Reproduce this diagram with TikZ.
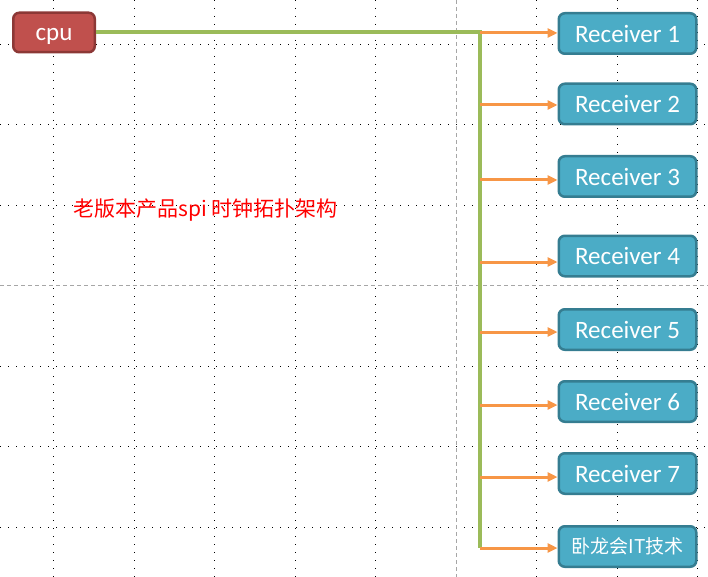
\documentclass[tikz,border=0pt]{standalone}
\usepackage{fontspec}
\setmainfont{Carlito}
\newfontfamily\cjk{Noto Sans CJK SC}
\usetikzlibrary{arrows.meta}
\definecolor{cpured}{HTML}{C0504D}
\definecolor{cpuedge}{HTML}{8C3836}
\definecolor{rxblue}{HTML}{4BACC6}
\definecolor{rxedge}{HTML}{357D91}
\definecolor{busgreen}{HTML}{9BBB59}
\definecolor{linkorange}{HTML}{F79646}

\begin{document}
\begin{tikzpicture}[x=1pt,y=-1pt,
	gridline/.style={line width=0.9pt, dash pattern=on 0.9pt off 7.1pt},
	gridmid/.style={gray!70, line width=0.8pt, dash pattern=on 4pt off 3pt},
	cpubox/.style={draw=cpuedge, fill=cpured, line width=2.5pt, rounded corners=6pt, minimum width=81.5pt, minimum height=39.5pt, text=white, text height=16pt, text depth=0pt, font=\fontsize{25}{25}\selectfont},
	rxbox/.style={draw=rxedge, fill=rxblue, line width=2.5pt, rounded corners=6pt, minimum width=137.5pt, minimum height=40.5pt, text=white, font=\fontsize{25}{25}\selectfont},
	bus/.style={busgreen, line width=4pt},
	link/.style={linkorange, line width=3pt, -{Triangle[length=10pt,width=9pt]}}]
	
	\useasboundingbox (0,0) rectangle (708,577);
	
	\foreach \i in {0,1,2,3,4,6,7,8}
		\draw[gridline] (53.5+80.5*\i,0) -- (53.5+80.5*\i,577);
	\foreach \j in {0,1,2,4,5,6}
		\draw[gridline] (0,44+80.5*\j) -- (708,44+80.5*\j);
	\draw[gridmid] (456,0) -- (456,577);
	\draw[gridmid] (0,285.5) -- (708,285.5);
	
	\node[cpubox] (cpu) at (54,32.5) {cpu};
	
	\node[anchor=west, text=red, font=\cjk\fontsize{21}{21}\selectfont] (title) at (70,210) {老版本产品spi 时钟拓扑架构};
	
	\node[rxbox] (r1) at (627.5,33.5) {Receiver 1};
	\node[rxbox] (r2) at (627.5,104) {Receiver 2};
	\node[rxbox] (r3) at (627.5,176.5) {Receiver 3};
	\node[rxbox] (r4) at (627.5,256) {Receiver 4};
	\node[rxbox] (r5) at (627.5,329.5) {Receiver 5};
	\node[rxbox] (r6) at (627.5,401.5) {Receiver 6};
	\node[rxbox] (r7) at (627.5,473.5) {Receiver 7};
	\node[rxbox, font=\cjk\fontsize{19}{19}\selectfont] (r8) at (627.5,546.5) {卧龙会IT技术};
	
	\coordinate (t1) at (480,33);
	\coordinate (t2) at (480,105);
	\coordinate (t3) at (480,180);
	\coordinate (t4) at (480,262);
	\coordinate (t5) at (480,332);
	\coordinate (t6) at (480,405);
	\coordinate (t7) at (480,477);
	\coordinate (t8) at (480,548);
	
	\draw[bus] (cpu.east) -| (t8);
	
	\draw[link] (t1) -- (t1 -| r1.west);
	\draw[link] (t2) -- (t2 -| r2.west);
	\draw[link] (t3) -- (t3 -| r3.west);
	\draw[link] (t4) -- (t4 -| r4.west);
	\draw[link] (t5) -- (t5 -| r5.west);
	\draw[link] (t6) -- (t6 -| r6.west);
	\draw[link] (t7) -- (t7 -| r7.west);
	\draw[link] (t8) -- (t8 -| r8.west);
	
\end{tikzpicture}
\end{document}
